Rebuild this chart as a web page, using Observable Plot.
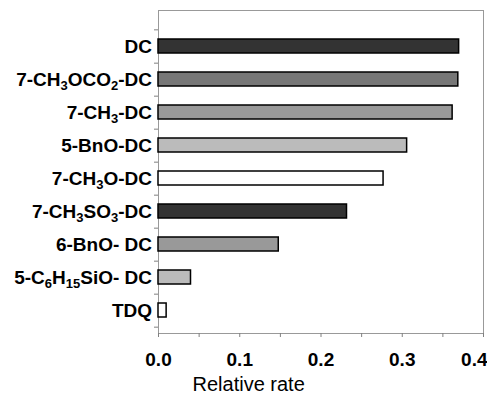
<!DOCTYPE html>
<html><head><meta charset="utf-8">
<script src="https://cdn.jsdelivr.net/npm/d3@7"></script>
<script src="https://cdn.jsdelivr.net/npm/@observablehq/plot@0.6"></script>
<style>body{margin:0;background:#fff}</style>
</head><body><div id="chart"></div>
<script>
const categories = ["DC","7-CH₃OCO₂-DC","7-CH₃-DC","5-BnO-DC","7-CH₃O-DC","7-CH₃SO₃-DC","6-BnO- DC","5-C₆H₁₅SiO- DC","TDQ"];
const rates = [0.370, 0.369, 0.362, 0.306, 0.277, 0.232, 0.148, 0.040, 0.010];
const xTickLabels = [0, 0.1, 0.2, 0.3, 0.4];
const xTickMarks = [0, 0.05, 0.1, 0.15, 0.2, 0.25, 0.3, 0.35, 0.4];
const barFills = ["#333333","#777777","#999999","#bbbbbb","#ffffff","#333333","#999999","#bbbbbb","#ffffff"];
const xLabel = "Relative rate";

const data = categories.map((name, i) => ({name, rate: rates[i]}));
const yTop = 28.33, yBottom = 328.33;
const step = (yBottom - yTop) / categories.length;
const axisGray = "#808080";
const lastTick = xTickLabels[xTickLabels.length - 1];

const chart = Plot.plot({
  width: 487, height: 396,
  marginLeft: 158, marginRight: 4, marginTop: 10, marginBottom: 63,
  style: {fontFamily: "'Liberation Sans', Arial, sans-serif", background: "#fff", color: "#000", overflow: "visible"},
  x: {domain: [0, 0.4]},
  y: {domain: categories, range: [yTop, yBottom], paddingInner: 0.58, paddingOuter: 0.29},
  color: {type: "ordinal", domain: categories, range: barFills},
  marks: [
    Plot.frame({stroke: "#999999"}),
    Plot.barX(data, {x: "rate", y: "name", fill: "name", stroke: "#000", strokeWidth: 1.5}),
    Plot.axisX({ticks: xTickMarks, tickSize: 4, text: null, label: null, stroke: axisGray}),
    Plot.axisX({ticks: xTickLabels.slice(0, -1), tickSize: 0, tickPadding: 18.5, tickFormat: d => d.toFixed(1), fontSize: 19, fontWeight: "bold", color: "#000", label: null}),
    Plot.axisX({ticks: [lastTick], tickSize: 0, tickPadding: 18.5, tickFormat: d => d.toFixed(1), fontSize: 19, fontWeight: "bold", color: "#000", label: null, textAnchor: "end", dx: 4}),
    Plot.axisY({ticks: categories, tickSize: 4, text: null, label: null, dy: step / 2, stroke: axisGray}),
    Plot.axisY({ticks: [categories[0]], tickSize: 4, text: null, label: null, dy: -step / 2, stroke: axisGray}),
    Plot.axisY({tickSize: 0, tickPadding: 6.5, fontSize: 19, fontWeight: "bold", color: "#000", label: null}),
    Plot.text([xLabel], {frameAnchor: "bottom-left", textAnchor: "start", lineAnchor: "top", dx: 34, dy: 43, fontSize: 20, fill: "#000"})
  ]
});
document.getElementById("chart").appendChild(chart);

// render unicode subscripts as smaller, lowered digits
const subMap = {"₀":"0","₁":"1","₂":"2","₃":"3","₄":"4","₅":"5","₆":"6","₇":"7","₈":"8","₉":"9"};
d3.select(chart).selectAll('g[aria-label="y-axis tick label"] text').each(function() {
  const t = d3.select(this);
  const s = this.textContent;
  const runs = [];
  for (const ch of s) {
    const sub = ch in subMap;
    const c = sub ? subMap[ch] : ch;
    if (runs.length && runs[runs.length - 1].sub === sub) runs[runs.length - 1].text += c;
    else runs.push({sub, text: c});
  }
  if (!runs.some(r => r.sub)) return;
  t.text(null);
  let shifted = false;
  for (const r of runs) {
    const ts = t.append("tspan").text(r.text);
    if (r.sub) { ts.attr("font-size", "13px").attr("dy", shifted ? null : "4px"); shifted = true; }
    else { if (shifted) ts.attr("dy", "-4px"); shifted = false; }
  }
});
</script>
</body></html>
